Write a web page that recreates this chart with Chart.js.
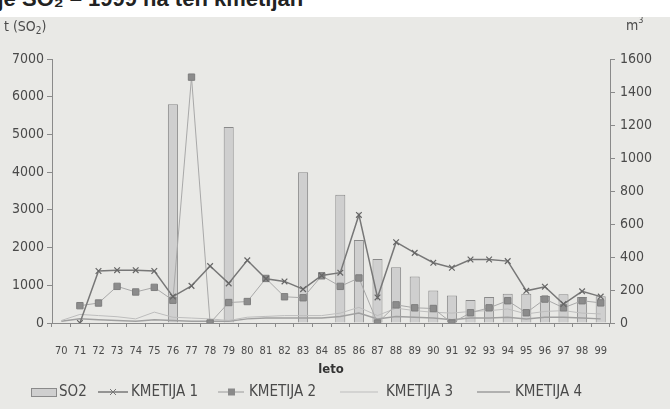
<!DOCTYPE html>
<html>
<head>
<meta charset="utf-8">
<script src="https://cdn.jsdelivr.net/npm/chart.js@4.4.0/dist/chart.umd.min.js"></script>
<style>
  html,body{margin:0;padding:0;background:#ffffff;width:670px;height:409px;overflow:hidden;}
  #title{position:absolute;left:0;top:-14px;height:24px;white-space:nowrap;font:bold 22px "Liberation Sans",Arial,sans-serif;color:#222;}
  #clip{position:absolute;left:0;top:0;width:670px;height:15px;overflow:hidden;}
  #panel{position:absolute;left:0;top:17px;width:670px;height:392px;background:#e9e9e6;}
</style>
</head>
<body>
<div id="clip"><div id="title"><span id="pre">Emisije SO₂ – </span>1999 na teh kmetijah</div></div>
<div id="panel"><canvas id="c" width="670" height="392"></canvas></div>
<script>
// ---- data ----
const years = ['70','71','72','73','74','75','76','77','78','79','80','81','82','83','84','85','86','87','88','89','90','91','92','93','94','95','96','97','98','99'];
const so2 = [null,null,null,null,null,null,5800,null,null,5200,null,null,null,4000,null,3400,2200,1700,1480,1230,860,730,610,690,775,775,715,765,690,710];
const kmetija1 = [null,0,315,320,320,315,160,225,345,240,380,268,252,205,288,305,655,155,490,425,365,335,385,385,375,195,220,115,192,160];
const kmetija2 = [null,105,121,222,188,216,138,1490,0,124,130,270,159,153,286,222,273,0,110,92,88,0,62,92,135,62,145,92,135,122];
const kmetija3 = [15,52,45,38,25,66,35,30,25,15,35,40,45,45,45,60,95,45,90,75,65,60,70,75,85,55,70,75,60,55];
const kmetija4 = [10,25,20,15,10,20,15,10,10,10,25,30,30,30,30,40,60,25,40,35,30,20,30,30,35,25,35,35,30,25];
const leftTicks = [0,1000,2000,3000,4000,5000,6000,7000];
const rightTicks = [0,200,400,600,800,1000,1200,1400,1600];

// position cropped title so that "1999" starts near x=88
const pre = document.getElementById('pre');
document.getElementById('title').style.left = (88 - pre.getBoundingClientRect().width) + 'px';

const FONT = '"DejaVu Sans Condensed","Liberation Sans Narrow",sans-serif';
const TXT = '#4a4a4a';
const AX = '#8a8a8a';

const extraText = {
  id: 'extraText',
  afterDraw(chart) {
    const ctx = chart.ctx;
    ctx.save();
    ctx.fillStyle = TXT;
    ctx.textBaseline = 'middle';
    // axis unit titles
    ctx.font = '14px ' + FONT;
    ctx.textAlign = 'left';
    ctx.fillText('t (SO', 4, 10);
    let w = ctx.measureText('t (SO').width;
    ctx.font = '10px ' + FONT;
    ctx.fillText('2', 4 + w, 14);
    let w2 = ctx.measureText('2').width;
    ctx.font = '14px ' + FONT;
    ctx.fillText(')', 4 + w + w2, 10);
    ctx.fillText('m', 626, 9);
    let wm = ctx.measureText('m').width;
    ctx.font = '9px ' + FONT;
    ctx.fillText('3', 626 + wm, 4);

    // legend
    const y = 375;
    ctx.font = '15px ' + FONT;
    ctx.fillStyle = '#cfcfcf';
    ctx.fillRect(31, y - 4, 25, 8);
    ctx.strokeStyle = '#8a8a8a';
    ctx.lineWidth = 1;
    ctx.strokeRect(31.5, y - 3.5, 25, 8);
    ctx.fillStyle = TXT;
    ctx.fillText('SO2', 59, y);

    // K1
    ctx.strokeStyle = '#777';
    ctx.lineWidth = 1.5;
    ctx.beginPath(); ctx.moveTo(98, y); ctx.lineTo(128, y); ctx.stroke();
    ctx.lineWidth = 1;
    ctx.beginPath();
    ctx.moveTo(110, y - 3); ctx.lineTo(116, y + 3);
    ctx.moveTo(116, y - 3); ctx.lineTo(110, y + 3);
    ctx.stroke();
    ctx.fillText('KMETIJA 1', 131, y);

    // K2
    ctx.strokeStyle = '#9a9a9a';
    ctx.lineWidth = 1;
    ctx.beginPath(); ctx.moveTo(218, y); ctx.lineTo(244, y); ctx.stroke();
    ctx.fillStyle = '#8a8a8a';
    ctx.fillRect(228, y - 3.5, 7, 7);
    ctx.fillStyle = TXT;
    ctx.fillText('KMETIJA 2', 249, y);

    // K3
    ctx.strokeStyle = '#bdbdbd';
    ctx.lineWidth = 1;
    ctx.beginPath(); ctx.moveTo(340, y); ctx.lineTo(378, y); ctx.stroke();
    ctx.fillText('KMETIJA 3', 386, y);

    // K4
    ctx.strokeStyle = '#9c9c9c';
    ctx.lineWidth = 1.5;
    ctx.beginPath(); ctx.moveTo(477, y); ctx.lineTo(510, y); ctx.stroke();
    ctx.fillText('KMETIJA 4', 515, y);
    ctx.restore();
  }
};

new Chart(document.getElementById('c'), {
  data: {
    labels: years,
    datasets: [
      { type: 'line', label: 'KMETIJA 1', data: kmetija1, yAxisID: 'y1', order: 0,
        borderColor: '#777777', borderWidth: 1.5, pointStyle: 'crossRot', pointRadius: 4,
        pointBorderColor: '#666666', pointBorderWidth: 1.2, tension: 0, spanGaps: false },
      { type: 'line', label: 'KMETIJA 2', data: kmetija2, yAxisID: 'y1', order: 1,
        borderColor: '#a8a8a8', borderWidth: 1, pointStyle: 'rect', pointRadius: 4.5,
        pointBackgroundColor: '#8c8c8c', pointBorderColor: '#7e7e7e', pointBorderWidth: 1, tension: 0 },
      { type: 'line', label: 'KMETIJA 3', data: kmetija3, yAxisID: 'y1', order: 2,
        borderColor: '#bdbdbd', borderWidth: 1, pointRadius: 0, tension: 0 },
      { type: 'line', label: 'KMETIJA 4', data: kmetija4, yAxisID: 'y1', order: 3,
        borderColor: '#a0a0a0', borderWidth: 1.5, pointRadius: 0, tension: 0 },
      { type: 'bar', label: 'SO2', data: so2, yAxisID: 'y', order: 10,
        backgroundColor: '#cfcfcf', borderColor: '#8a8a8a', borderWidth: 1,
        barPercentage: 0.6, categoryPercentage: 0.9 }
    ]
  },
  options: {
    responsive: false,
    animation: false,
    events: [],
    layout: { padding: { top: 42, bottom: 32, left: 0, right: 0 } },
    plugins: { legend: { display: false }, tooltip: { enabled: false } },
    scales: {
      x: {
        position: 'bottom',
        offset: true,
        grid: { display: true, drawOnChartArea: false, drawTicks: true, tickLength: 4, color: AX, offset: true },
        border: { display: true, color: AX, width: 1 },
        ticks: { color: TXT, font: { family: FONT, size: 11 }, padding: 18, maxRotation: 0, autoSkip: false },
        title: { display: true, text: 'leto', color: '#333', font: { family: FONT, size: 13, weight: 'bold' }, padding: 0 },
        afterFit(s) { s.height = 54; }
      },
      y: {
        position: 'left',
        min: 0, max: 7000,
        afterBuildTicks(s) { s.ticks = leftTicks.map(v => ({ value: v })); },
        grid: { display: true, drawOnChartArea: false, drawTicks: true, tickLength: 5, color: AX },
        border: { display: true, color: AX, width: 1 },
        ticks: { color: TXT, font: { family: FONT, size: 14 }, padding: 3, callback: v => String(v) },
        afterFit(s) { s.width = 52; }
      },
      y1: {
        position: 'right',
        min: 0, max: 1600,
        afterBuildTicks(s) { s.ticks = rightTicks.map(v => ({ value: v })); },
        grid: { display: true, drawOnChartArea: false, drawTicks: true, tickLength: 5, color: AX },
        border: { display: true, color: AX, width: 1 },
        ticks: { color: TXT, font: { family: FONT, size: 14 }, padding: 5, callback: v => String(v) },
        afterFit(s) { s.width = 60; }
      }
    }
  },
  plugins: [extraText]
});
</script>
</body>
</html>
